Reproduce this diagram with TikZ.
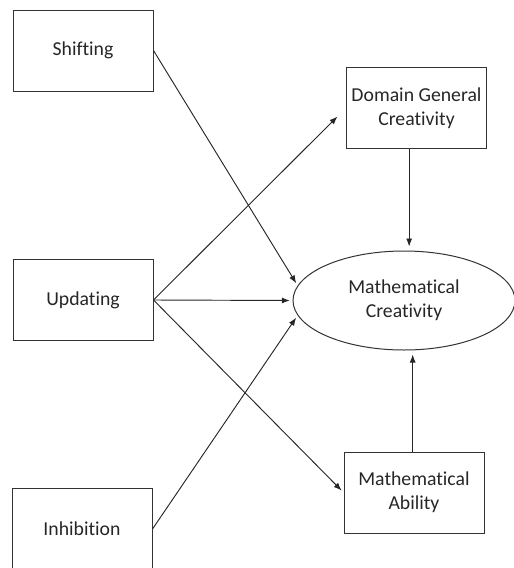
\documentclass[tikz,border=0pt]{standalone}
\usepackage{fontspec}
\setmainfont{Carlito}[Ligatures=NoCommon]
\usetikzlibrary{arrows.meta,shapes.geometric}

\tikzset{every picture/.style={line width=0.75pt}}
\tikzset{
	varbox/.style={draw=black!80, minimum width=105pt, minimum height=60.75pt, inner sep=0pt, align=center, text=black!85, font=\fontsize{14.8}{18}\selectfont},
	outcome/.style={ellipse, draw=black!80, minimum width=166.5pt, minimum height=74.25pt, inner sep=0pt, align=center, text=black!85, font=\fontsize{14.8}{18}\selectfont},
	link/.style={draw=black!85, line width=0.7pt, -{Latex[length=6pt,width=4.5pt]}, shorten >=2pt}}

\begin{document}
\begin{tikzpicture}[x=0.75pt,y=0.75pt,yscale=-1,xscale=1]
	\useasboundingbox (0,0) rectangle (514,568);

	%Shape: Rectangle [id:shift] 
	\node[varbox] (shift) at (83,50.5) {Shifting};
	%Shape: Rectangle [id:upd] 
	\node[varbox] (upd) at (83,300) {Updating};
	%Shape: Rectangle [id:inhib] 
	\node[varbox] (inhib) at (82,529) {Inhibition};
	%Shape: Rectangle [id:dgc] 
	\node[varbox] (dgc) at (416.5,108) {Domain General\\Creativity};
	%Shape: Rectangle [id:mab] 
	\node[varbox] (mab) at (414,492.5) {Mathematical\\Ability};
	%Shape: Ellipse [id:mcr] 
	\node[outcome] (mcr) at (404,300.5) {Mathematical\\Creativity};

	%Straight Lines 
	\draw[link] (shift.east) -- (mcr.172);
	\draw[link, shorten >=9pt] (upd.east) -- (dgc.west);
	\draw[link] (upd.east) -- (mcr.west);
	\draw[link] (upd.east) -- (mab.west);
	\draw[link] (inhib.east) -- (mcr.188);
	\draw[link, shorten >=3pt] ([xshift=-5.5pt]dgc.south) -- ([xshift=-5.5pt]dgc.south |- mcr.north);
	\draw[link, shorten >=3pt] ([xshift=-1pt]mab.north) -- ([xshift=-1pt]mab.north |- mcr.south);

\end{tikzpicture}
\end{document}
